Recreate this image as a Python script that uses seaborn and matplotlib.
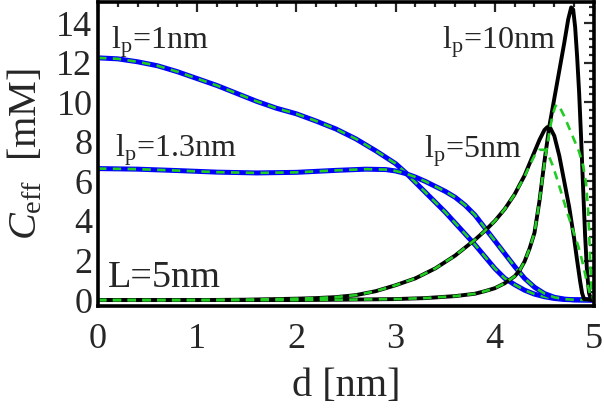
import numpy as np
import matplotlib
matplotlib.use("Agg")
import matplotlib.pyplot as plt
from matplotlib.ticker import MultipleLocator
import seaborn as sns

# end-to-end density curves, L = 5 nm
d_lp1 = [0.0, 0.2, 0.4, 0.6, 0.8, 1.0, 1.2, 1.4, 1.6, 1.8, 2.0, 2.2, 2.4, 2.6, 2.8,
         3.0, 3.1, 3.2, 3.3, 3.4, 3.5, 3.6, 3.7, 3.8, 3.9, 4.0, 4.1, 4.2, 4.3, 4.4,
         4.5, 4.6, 4.7, 4.8, 5.0]
c_lp1 = [12.25, 12.2, 12.05, 11.85, 11.55, 11.2, 10.85, 10.45, 10.05, 9.7, 9.42, 9.05,
         8.65, 8.15, 7.55, 6.9, 6.45, 5.95, 5.45, 4.95, 4.45, 3.9, 3.35, 2.8, 2.2, 1.6,
         1.1, 0.78, 0.5, 0.3, 0.17, 0.08, 0.03, 0.01, 0.0]

d_lp13 = [0.0, 0.4, 0.8, 1.2, 1.6, 2.0, 2.4, 2.7, 2.9, 3.0, 3.1, 3.2, 3.3, 3.4, 3.5,
          3.6, 3.7, 3.8, 3.9, 4.0, 4.1, 4.2, 4.3, 4.4, 4.5, 4.6, 4.7, 4.8, 5.0]
c_lp13 = [6.65, 6.62, 6.55, 6.47, 6.43, 6.46, 6.56, 6.62, 6.6, 6.53, 6.4, 6.22, 6.0,
          5.75, 5.5, 5.2, 4.8, 4.3, 3.65, 3.0, 2.35, 1.7, 1.1, 0.65, 0.33, 0.14, 0.05,
          0.015, 0.0]

d_lp5 = [0.0, 1.0, 1.5, 2.0, 2.2, 2.4, 2.6, 2.8, 3.0, 3.2, 3.4, 3.6, 3.8, 3.9, 4.0,
         4.1, 4.2, 4.3, 4.35, 4.4, 4.45, 4.5, 4.53, 4.56, 4.6, 4.65, 4.7, 4.75, 4.8,
         4.83, 4.86, 4.88, 4.9, 5.0]
c_lp5 = [0.0, 0.0, 0.02, 0.07, 0.1, 0.15, 0.25, 0.45, 0.75, 1.1, 1.6, 2.25, 3.05, 3.5,
         4.0, 4.6, 5.35, 6.3, 6.9, 7.5, 8.1, 8.6, 8.75, 8.7, 8.3, 7.3, 6.0, 4.7, 3.1,
         2.0, 0.95, 0.35, 0.05, 0.0]
d_lp5_app = [0.0, 1.0, 1.5, 2.0, 2.2, 2.4, 2.6, 2.8, 3.0, 3.2, 3.4, 3.6, 3.8, 3.9, 4.0,
             4.1, 4.2, 4.3, 4.35, 4.4, 4.45, 4.5, 4.54, 4.58, 4.62, 4.66, 4.72, 4.78,
             4.84, 4.88, 4.92, 4.96, 5.0]
c_lp5_app = [0.0, 0.0, 0.02, 0.07, 0.1, 0.15, 0.25, 0.45, 0.75, 1.1, 1.6, 2.25, 3.05,
             3.5, 4.0, 4.6, 5.35, 6.25, 6.8, 7.3, 7.6, 7.6, 7.35, 6.85, 6.25, 5.6, 4.6,
             3.65, 2.75, 2.0, 1.1, 0.3, 0.0]

d_lp10 = [0.0, 2.0, 2.5, 3.0, 3.3, 3.6, 3.8, 3.9, 4.0, 4.1, 4.2, 4.25, 4.3, 4.35, 4.4,
          4.45, 4.5, 4.55, 4.6, 4.65, 4.7, 4.74, 4.77, 4.79, 4.81, 4.83, 4.85, 4.87,
          4.89, 4.91, 4.93, 4.95, 4.97, 5.0]
c_lp10 = [0.0, 0.0, 0.02, 0.05, 0.1, 0.2, 0.32, 0.45, 0.6, 0.85, 1.2, 1.5, 1.95, 2.6,
          3.4, 5.0, 7.0, 8.8, 10.2, 11.6, 13.0, 14.2, 14.8, 14.7, 13.8, 12.3, 10.5, 8.2,
          5.7, 3.3, 1.4, 0.35, 0.03, 0.0]
d_lp10_app = [0.0, 2.0, 2.5, 3.0, 3.3, 3.6, 3.8, 3.9, 4.0, 4.1, 4.2, 4.25, 4.3, 4.35,
              4.4, 4.45, 4.5, 4.55, 4.58, 4.61, 4.63, 4.66, 4.7, 4.75, 4.8, 4.85, 4.89,
              4.92, 4.94, 4.95, 4.96, 4.97, 4.98, 4.99, 5.0]
c_lp10_app = [0.0, 0.0, 0.02, 0.05, 0.1, 0.2, 0.32, 0.45, 0.6, 0.85, 1.2, 1.5, 1.95,
              2.6, 3.4, 5.0, 6.9, 8.5, 9.3, 9.8, 9.9, 9.7, 9.3, 8.7, 8.1, 7.5, 6.8, 5.9,
              4.6, 3.5, 2.2, 1.0, 0.35, 0.08, 0.0]

labels = ["l$_\\mathrm{p}$=1nm", "l$_\\mathrm{p}$=1.3nm", "l$_\\mathrm{p}$=5nm",
          "l$_\\mathrm{p}$=10nm", "L=5nm"]
label_pos = [(0.13, 12.7), (0.17, 7.25), (3.29, 7.2), (3.47, 12.7), (0.10, 0.66)]
label_size = [23, 23, 23, 23, 27.5]

sns.set_style("white")
plt.rcParams['font.family'] = ['Liberation Serif', 'DejaVu Serif']
plt.rcParams['mathtext.fontset'] = 'custom'
plt.rcParams['mathtext.rm'] = 'Liberation Serif'
plt.rcParams['mathtext.it'] = 'Liberation Serif:italic'

fig = plt.figure(figsize=(6.04, 4.09), dpi=100)
ax = fig.add_axes([98/604, 1-306/409, (594-98)/604, (306-1.5)/409])

blue = "#0000ff"
green = "#22cc22"
dash = dict(color=green, lw=1.9, dashes=(3.2, 2.4))

sns.lineplot(x=d_lp1, y=c_lp1, ax=ax, color=blue, lw=3.6)
sns.lineplot(x=d_lp1, y=c_lp1, ax=ax, **dash)
sns.lineplot(x=d_lp13, y=c_lp13, ax=ax, color=blue, lw=3.6)
sns.lineplot(x=d_lp13, y=c_lp13, ax=ax, **dash)
sns.lineplot(x=d_lp5, y=c_lp5, ax=ax, color="black", lw=2.8)
sns.lineplot(x=d_lp10, y=c_lp10, ax=ax, color="black", lw=2.8)
sns.lineplot(x=d_lp5_app, y=c_lp5_app, ax=ax, **dash)
sns.lineplot(x=d_lp10_app, y=c_lp10_app, ax=ax, **dash)

for txt, (x, y), fs in zip(labels, label_pos, label_size):
    ax.text(x, y, txt, fontsize=fs, ha="left", va="baseline")

ax.set_xlim(0, 5)
ax.set_ylim(-0.3, 15.1)
ax.xaxis.set_major_locator(MultipleLocator(1))
ax.xaxis.set_minor_locator(MultipleLocator(0.2))
ax.yaxis.set_major_locator(MultipleLocator(2))
ax.yaxis.set_minor_locator(MultipleLocator(0.4))
ax.tick_params(which="both", direction="in", top=True, right=True, labelsize=26)
ax.tick_params(axis="x", pad=12)
ax.tick_params(axis="y", pad=4)
ax.tick_params(which="major", length=7, width=1.6)
ax.tick_params(which="minor", length=3.5, width=1.6)
for s in ax.spines.values():
    s.set_linewidth(2.6)
    s.set_color("black")

ax.set_xlabel("d [nm]", fontsize=29, labelpad=9)
ax.set_ylabel("$C_\\mathrm{eff}$  [mM]", fontsize=29, labelpad=8)

fig.savefig("out.png", dpi=100)
